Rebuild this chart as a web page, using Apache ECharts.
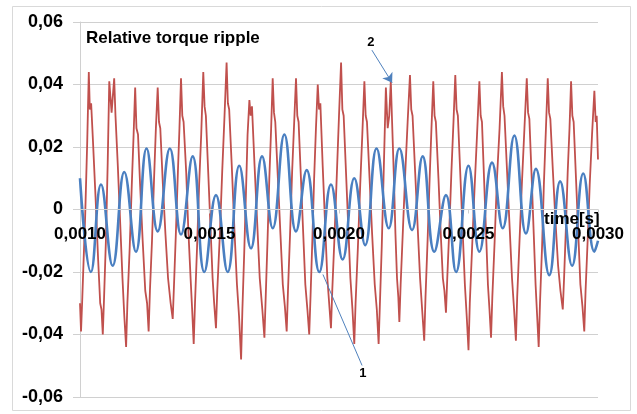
<!DOCTYPE html>
<html>
<head>
<meta charset="utf-8">
<title>Relative torque ripple</title>
<script src="https://cdn.jsdelivr.net/npm/echarts/dist/echarts.min.js"></script>
<style>
html, body { margin: 0; padding: 0; background: #fff; }
#torqueChart { width: 637px; height: 414px; }
</style>
</head>
<body>
<div id="torqueChart"></div>
<script>
// axis ticks
var timeTicks = [0.0010, 0.0015, 0.0020, 0.0025, 0.0030];
var rippleTicks = [-0.06, -0.04, -0.02, 0, 0.02, 0.04, 0.06];

// curve 2 (red) : [time in microseconds, relative ripple]
var ripple2 = [
	[1000,-0.030],[1004,-0.039],[1009,-0.028],[1020,-0.002],[1028,0.022],[1034,0.044],
	[1038,0.032],[1043,0.034],[1050,0.022],[1060,0.004],[1070,-0.016],[1078,-0.030],[1083,-0.032],[1088,-0.040],
	[1093,-0.028],[1100,-0.010],[1107,0.015],[1113,0.041],[1122,0.031],[1132,0.042],
	[1137,0.030],[1146,0.014],[1155,-0.004],[1164,-0.022],[1171,-0.034],[1178,-0.044],
	[1183,-0.030],[1192,-0.012],[1200,0.008],[1207,0.024],[1213,0.039],
	[1218,0.026],[1224,0.024],[1232,0.008],[1242,-0.010],[1252,-0.026],[1259,-0.030],[1265,-0.039],
	[1270,-0.026],[1278,-0.010],[1286,0.010],[1293,0.026],[1300,0.039],
	[1305,0.028],[1310,0.026],[1320,0.008],[1330,-0.008],[1340,-0.022],[1350,-0.030],[1358,-0.035],
	[1363,-0.024],[1370,-0.008],[1378,0.012],[1384,0.026],[1390,0.042],
	[1395,0.030],[1400,0.028],[1410,0.012],[1418,-0.006],[1427,-0.022],[1433,-0.032],[1439,-0.043],
	[1444,-0.030],[1452,-0.012],[1460,0.008],[1468,0.024],[1476,0.044],
	[1481,0.033],[1486,0.030],[1495,0.012],[1504,-0.006],[1512,-0.022],[1518,-0.030],[1525,-0.038],
	[1530,-0.026],[1540,-0.008],[1549,0.012],[1558,0.030],[1566,0.047],
	[1571,0.034],[1576,0.032],[1586,0.014],[1596,-0.006],[1606,-0.024],[1614,-0.034],[1622,-0.048],
	[1627,-0.032],[1634,-0.014],[1641,0.006],[1647,0.024],[1654,0.035],
	[1659,0.030],[1664,0.033],[1674,0.014],[1684,-0.004],[1694,-0.022],[1704,-0.032],[1712,-0.041],
	[1717,-0.028],[1724,-0.010],[1731,0.010],[1738,0.026],[1744,0.042],
	[1749,0.031],[1754,0.028],[1764,0.010],[1774,-0.008],[1783,-0.024],[1791,-0.031],[1798,-0.039],
	[1803,-0.026],[1811,-0.008],[1819,0.012],[1827,0.028],[1834,0.042],
	[1839,0.030],[1844,0.028],[1853,0.010],[1862,-0.008],[1870,-0.024],[1878,-0.032],[1885,-0.040],
	[1890,-0.028],[1897,-0.010],[1904,0.010],[1911,0.026],[1918,0.040],
	[1923,0.032],[1928,0.034],[1937,0.014],[1946,-0.004],[1955,-0.022],[1962,-0.030],[1969,-0.038],
	[1974,-0.026],[1983,-0.008],[1992,0.012],[2000,0.030],[2008,0.047],
	[2013,0.032],[2018,0.030],[2027,0.012],[2036,-0.006],[2044,-0.022],[2052,-0.032],[2059,-0.043],
	[2064,-0.030],[2073,-0.012],[2082,0.008],[2090,0.024],[2098,0.041],
	[2103,0.030],[2108,0.028],[2118,0.010],[2128,-0.008],[2138,-0.024],[2146,-0.032],[2153,-0.043],
	[2158,-0.030],[2165,-0.012],[2172,0.010],[2181,0.039],[2188,0.026],[2194,0.030],[2200,0.041],
	[2205,0.028],[2212,0.010],[2218,-0.008],[2224,-0.022],[2229,-0.028],[2233,-0.036],
	[2238,-0.024],[2247,-0.006],[2256,0.012],[2265,0.028],[2274,0.043],
	[2279,0.032],[2284,0.030],[2294,0.012],[2304,-0.006],[2313,-0.022],[2321,-0.032],[2329,-0.042],
	[2334,-0.028],[2342,-0.010],[2350,0.010],[2357,0.026],[2364,0.041],
	[2369,0.030],[2374,0.028],[2384,0.010],[2393,-0.008],[2401,-0.022],[2407,-0.026],[2413,-0.033],
	[2418,-0.022],[2426,-0.006],[2434,0.012],[2442,0.028],[2449,0.043],
	[2454,0.032],[2459,0.030],[2468,0.012],[2477,-0.006],[2486,-0.024],[2493,-0.034],[2500,-0.045],
	[2505,-0.030],[2514,-0.012],[2523,0.006],[2533,0.024],[2542,0.041],
	[2547,0.030],[2552,0.028],[2560,0.010],[2568,-0.008],[2575,-0.024],[2581,-0.032],[2587,-0.041],
	[2592,-0.028],[2601,-0.010],[2610,0.010],[2620,0.026],[2629,0.044],
	[2634,0.033],[2639,0.030],[2649,0.012],[2659,-0.006],[2668,-0.022],[2676,-0.032],[2683,-0.042],
	[2688,-0.028],[2697,-0.010],[2706,0.008],[2716,0.026],[2725,0.042],
	[2730,0.031],[2735,0.029],[2744,0.010],[2752,-0.008],[2759,-0.024],[2765,-0.034],[2771,-0.044],
	[2776,-0.030],[2784,-0.012],[2791,0.008],[2799,0.026],[2806,0.042],
	[2811,0.031],[2816,0.029],[2826,0.012],[2836,-0.004],[2846,-0.018],[2855,-0.026],[2864,-0.032],
	[2869,-0.022],[2876,-0.006],[2883,0.012],[2890,0.026],[2896,0.041],
	[2901,0.030],[2906,0.028],[2915,0.010],[2924,-0.008],[2932,-0.024],[2940,-0.031],[2947,-0.039],
	[2952,-0.026],[2960,-0.010],[2968,0.008],[2977,0.024],[2986,0.038],
	[2991,0.028],[2995,0.030],[3000,0.016]
];

// curve 1 (blue) : peaks and troughs
var ripple1 = [
	[1000,0.010],[1042,-0.020],[1081,0.008],[1126,-0.018],[1171,0.012],[1216,-0.0135],
	[1257,0.0195],[1300,-0.007],[1347,0.0195],[1390,-0.008],[1435,0.017],[1480,-0.020],
	[1525,0.0046],[1570,-0.020],[1615,0.014],[1660,-0.0124],[1703,0.017],[1744,-0.006],
	[1789,0.024],[1834,-0.007],[1875,0.0126],[1924,-0.020],[1969,0.008],[2014,-0.016],
	[2059,0.010],[2101,-0.0114],[2145,0.0195],[2192,-0.006],[2233,0.0195],[2282,-0.0066],
	[2323,0.017],[2368,-0.0135],[2413,0.0046],[2452,-0.020],[2500,0.014],[2542,-0.0135],
	[2591,0.015],[2632,-0.006],[2677,0.0237],[2722,-0.0077],[2760,0.013],[2812,-0.021],
	[2854,0.009],[2900,-0.018],[2943,0.0115],[2986,-0.0135],[3000,-0.010]
];

// callouts "1" / "2" (time [s], value)
var callouts = [
	{ text: '2', from: [0.002127, 0.0510], to: [0.002205, 0.0406], head: 'arrow', at: 'start' },
	{ text: '1', from: [0.001938, -0.0208], to: [0.002089, -0.0499], head: 'none', at: 'end' }
];

var fontName = '"Liberation Sans", Arial, sans-serif';

function toSeconds(rows) {
	return rows.map(function (r) { return [r[0] / 1e6, r[1]]; });
}

function commaNum(v, digits) {
	if (Math.abs(v) < 1e-12) return '0';
	return v.toFixed(digits).replace('.', ',');
}

var torqueChart = echarts.init(document.getElementById('torqueChart'));
var option = {
	animation: false,
	backgroundColor: '#fff',
	textStyle: { fontFamily: fontName },
	title: {
		text: 'Relative torque ripple',
		left: 86,
		top: 30,
		padding: 0,
		textStyle: { fontSize: 17, fontWeight: 'bold', color: '#000', fontFamily: fontName }
	},
	graphic: [{
		type: 'rect',
		silent: true,
		shape: { x: 12.5, y: 6.5, width: 618, height: 404 },
		style: { fill: 'none', stroke: '#d9d9d9', lineWidth: 1 }
	}],
	grid: { left: 80, right: 39, top: 22, bottom: 17, containLabel: false, outerBoundsMode: 'none' },
	xAxis: {
		type: 'value',
		position: 'bottom',
		offset: 0,
		z: 5,
		min: timeTicks[0],
		max: timeTicks[timeTicks.length - 1],
		interval: 0.0005,
		name: 'time[s]',
		nameLocation: 'end',
		nameGap: -54,
		nameMoveOverlap: false,
		nameTextStyle: { color: '#000', fontSize: 17, fontWeight: 'bold', verticalAlign: 'top', padding: [1, 0, 0, 0] },
		axisLine: { onZero: false, lineStyle: { color: '#d0d0d0' } },
		axisTick: { show: true, length: 4, lineStyle: { color: '#d0d0d0' } },
		axisLabel: {
			margin: 16, color: '#000', fontSize: 17, fontWeight: 'bold',
			formatter: function (v) { return commaNum(v, 4); }
		},
		splitLine: { show: false }
	},
	yAxis: {
		type: 'value',
		min: rippleTicks[0],
		max: rippleTicks[rippleTicks.length - 1],
		interval: 0.02,
		axisLine: { show: true, onZero: false, lineStyle: { color: '#d0d0d0' } },
		axisTick: { show: true, length: 7, lineStyle: { color: '#d0d0d0' } },
		axisLabel: {
			margin: 17, color: '#000', fontSize: 18, fontWeight: 'bold',
			formatter: function (v) { return commaNum(v, 2); }
		},
		splitLine: { lineStyle: { color: '#d0d0d0' } }
	},
	series: [
		{
			name: '2',
			type: 'line',
			data: toSeconds(ripple2),
			showSymbol: false,
			lineStyle: { color: '#c0504d', width: 1.8 },
			z: 2
		},
		{
			name: '1',
			type: 'line',
			data: toSeconds(ripple1),
			showSymbol: false,
			smooth: 0.45,
			lineStyle: { color: '#4a7fc1', width: 2.6 },
			z: 3,
			markLine: {
				silent: true,
				symbolSize: 9,
				lineStyle: { color: '#4f81bd', width: 1, type: 'solid' },
				data: callouts.map(function (c) {
					return [
						{ coord: c.from, symbol: 'none',
						  label: { show: true, formatter: c.text, position: c.at, distance: 2,
						           color: '#000', fontSize: 13, fontWeight: 'bold' } },
						{ coord: c.to, symbol: c.head }
					];
				})
			}
		}
	]
};
torqueChart.setOption(option);

// time axis crosses the value axis at 0 : move it up from the bottom edge
var zeroY = torqueChart.convertToPixel({ yAxisIndex: 0 }, 0);
var bottomY = torqueChart.convertToPixel({ yAxisIndex: 0 }, rippleTicks[0]);
torqueChart.setOption({ xAxis: { offset: zeroY - bottomY } });

window.onresize = function () {
	torqueChart.resize();
};
</script>
</body>
</html>
